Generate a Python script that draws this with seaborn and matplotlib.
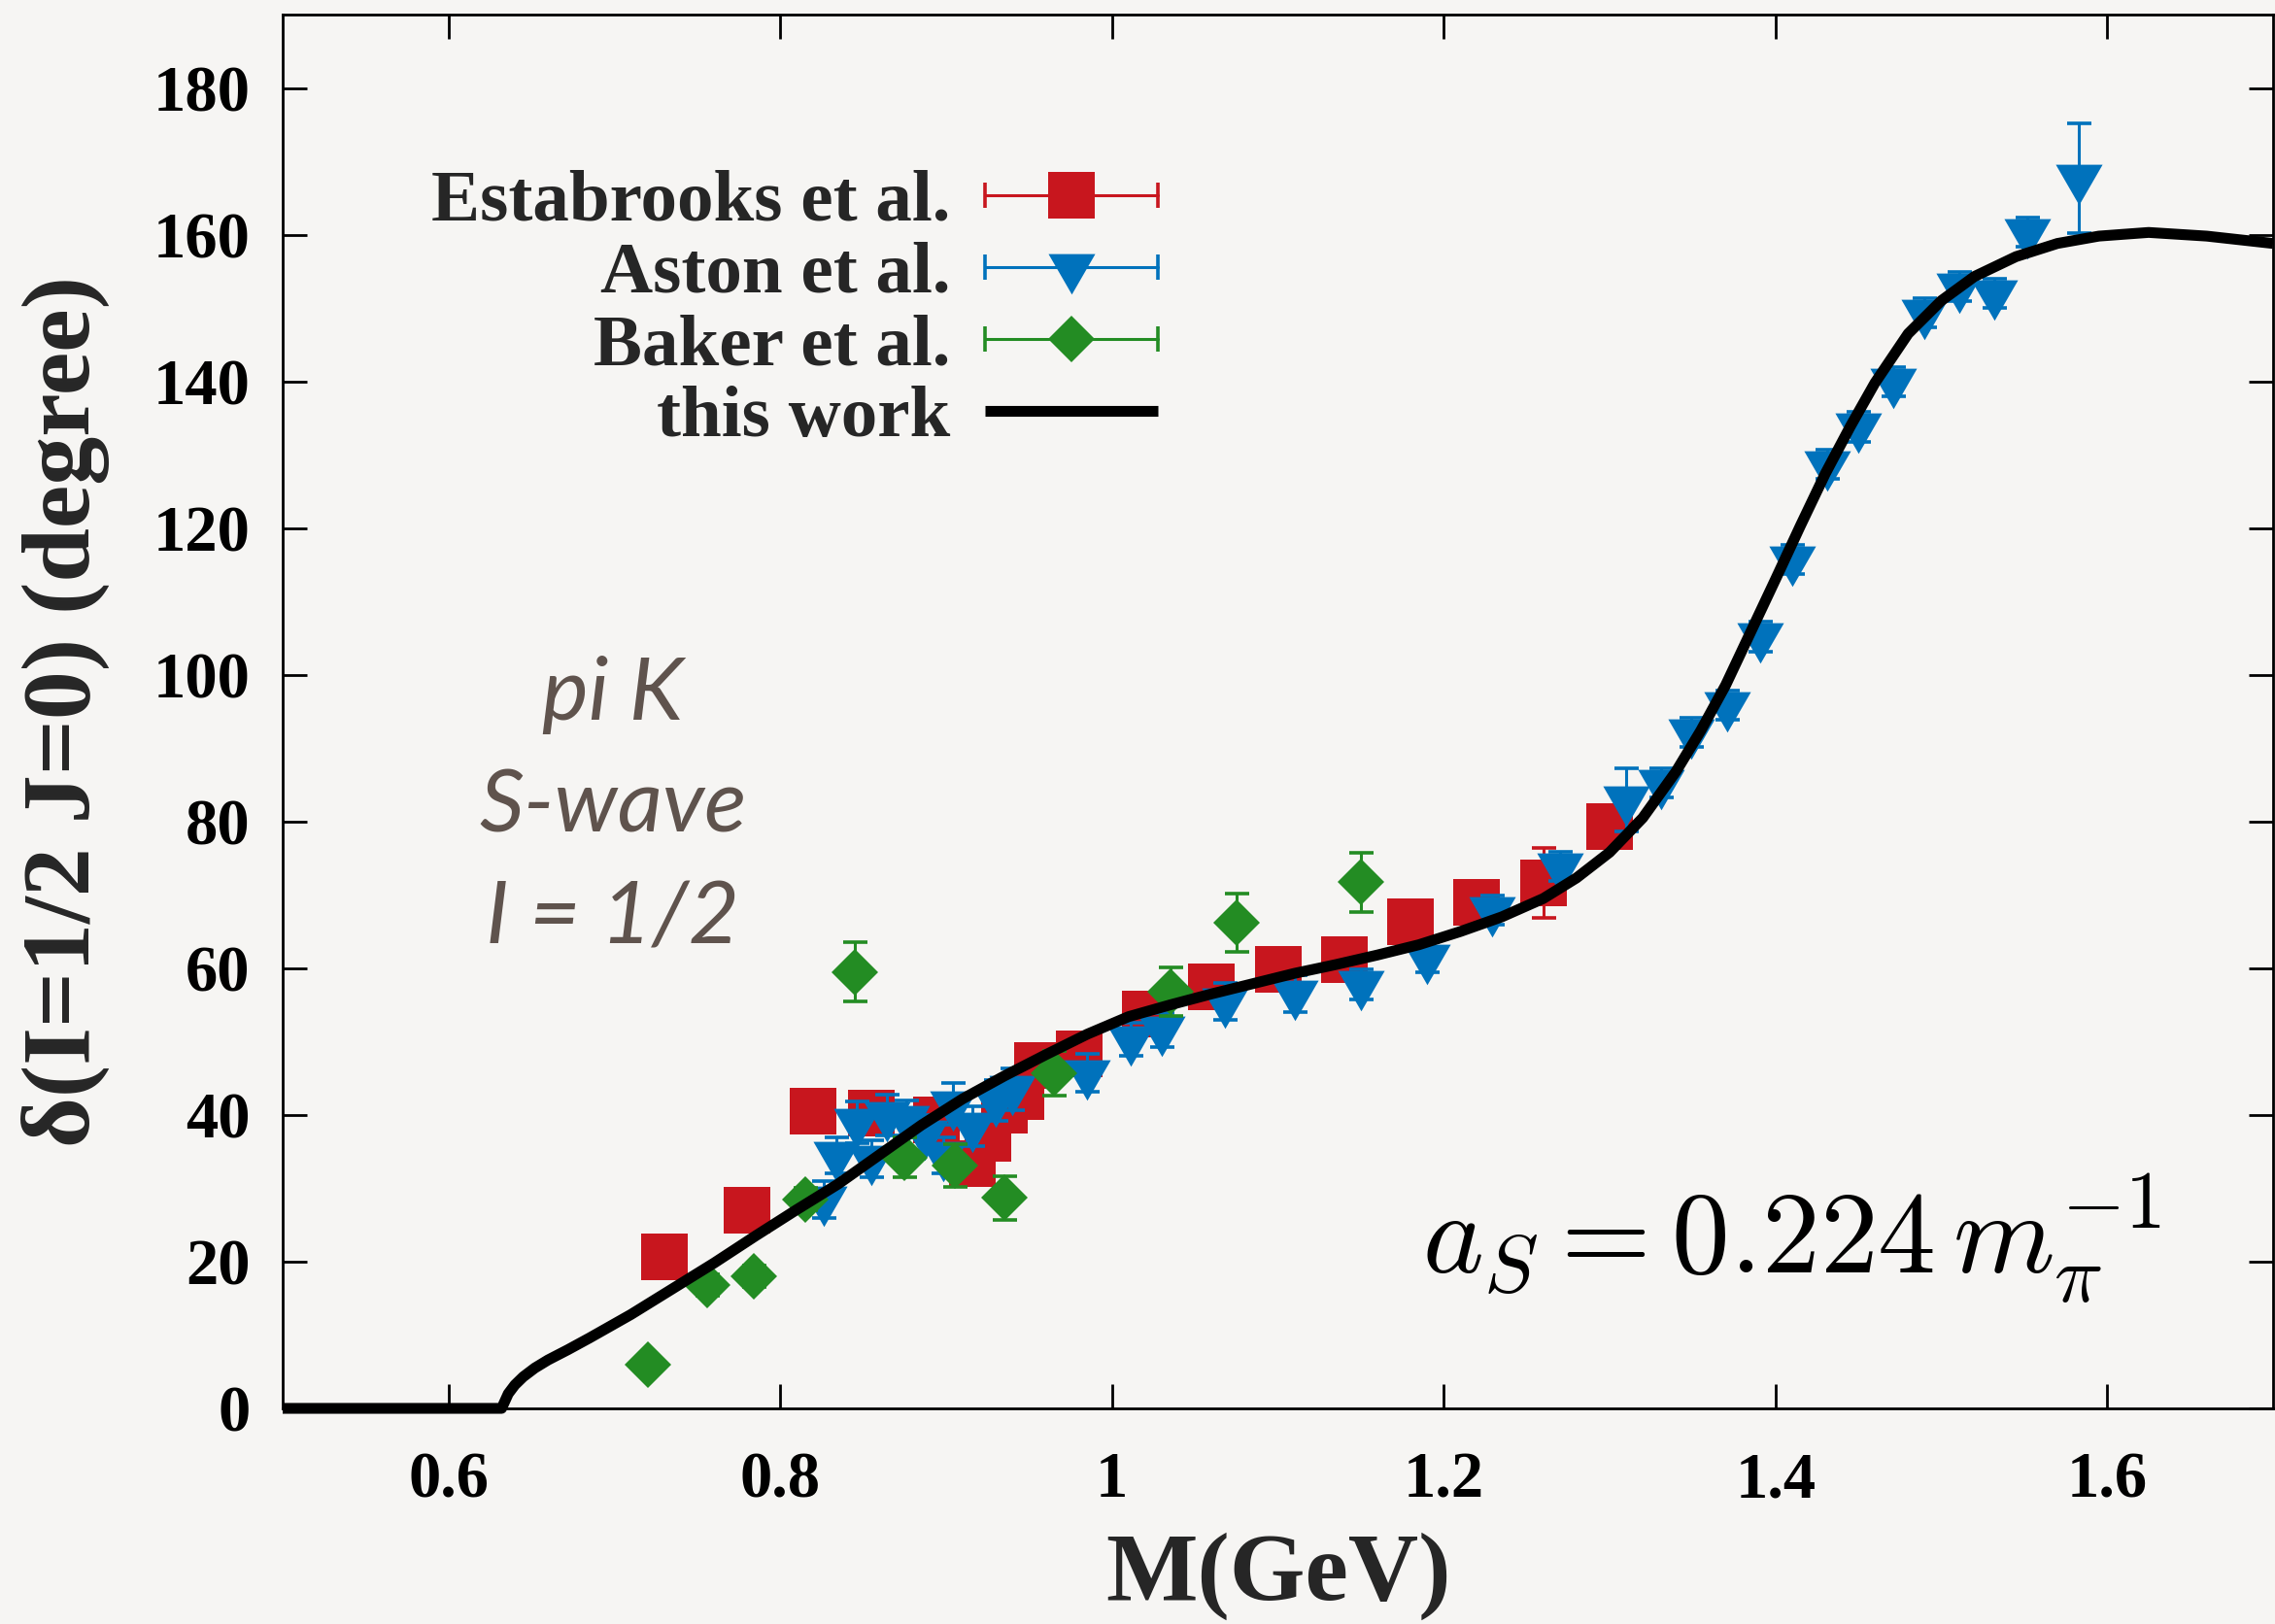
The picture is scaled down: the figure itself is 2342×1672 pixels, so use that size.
import matplotlib
matplotlib.use("Agg")
import matplotlib.pyplot as plt
import pandas as pd
import seaborn as sns
from matplotlib.lines import Line2D
from matplotlib.legend_handler import HandlerLine2D

# Estabrooks et al. (red squares)
estabrooks_m = [0.730, 0.780, 0.820, 0.855, 0.894, 0.916, 0.925, 0.935, 0.945, 0.955,
                0.980, 1.020, 1.060, 1.100, 1.140, 1.180, 1.220, 1.260, 1.300]
estabrooks_delta = [20.7, 27.0, 40.5, 40.3, 39.3, 33.3, 36.8, 40.6, 42.5, 46.7,
                    48.3, 53.8, 57.4, 59.9, 61.2, 66.3, 69.0, 71.6, 79.3]
estabrooks_err = [2.0, 2.0, 2.0, 2.0, 2.0, 2.0, 2.0, 2.0, 2.0, 2.0,
                  2.0, 2.0, 2.0, 2.0, 2.0, 2.0, 2.0, 4.8, 2.0]

# Aston et al. (blue down triangles)
aston_m = [0.826, 0.834, 0.846, 0.855, 0.864, 0.876, 0.887, 0.898, 0.904, 0.916,
           0.930, 0.940, 0.985, 1.011, 1.030, 1.068, 1.110, 1.150, 1.190, 1.229,
           1.270, 1.310, 1.331, 1.349, 1.371, 1.391, 1.410, 1.431, 1.450, 1.471,
           1.490, 1.511, 1.532, 1.552, 1.583]
aston_delta = [28.5, 34.5, 39.0, 34.0, 40.0, 39.5, 37.5, 34.5, 41.5, 38.5,
               42.0, 43.5, 45.7, 50.3, 51.6, 55.5, 56.5, 57.8, 61.5, 67.9,
               73.9, 83.0, 85.3, 92.2, 95.9, 105.2, 115.7, 128.7, 133.8, 140.0,
               149.3, 152.9, 152.0, 160.3, 167.7]
aston_err = [2.5, 2.5, 2.8, 2.5, 2.8, 2.5, 2.5, 2.5, 2.9, 2.7,
             2.8, 2.8, 2.6, 2.3, 2.3, 2.5, 2.5, 2.0, 2.0, 2.0,
             2.0, 4.3, 2.0, 2.0, 2.0, 2.0, 2.0, 2.0, 2.0, 2.0,
             2.0, 2.0, 2.0, 2.0, 7.5]

# Baker et al. (green diamonds)
baker_m = [0.720, 0.756, 0.784, 0.815, 0.845, 0.875, 0.905, 0.935, 0.965, 1.035, 1.075, 1.150]
baker_delta = [6.0, 16.8, 18.0, 28.5, 59.5, 34.2, 33.1, 28.7, 45.7, 56.8, 66.2, 71.7]
baker_err = [1.2, 1.5, 1.5, 1.5, 4.0, 2.7, 2.9, 3.0, 3.0, 3.3, 4.0, 4.0]

# this work (fit curve)
curve_m = [0.500, 0.632, 0.636, 0.640, 0.645, 0.652, 0.660, 0.672, 0.685, 0.710,
           0.735, 0.760, 0.785, 0.810, 0.835, 0.860, 0.885, 0.910, 0.935, 0.960,
           0.985, 1.010, 1.035, 1.060, 1.085, 1.110, 1.135, 1.160, 1.185, 1.210,
           1.235, 1.260, 1.280, 1.300, 1.320, 1.340, 1.355, 1.370, 1.385, 1.400,
           1.415, 1.430, 1.445, 1.460, 1.480, 1.500, 1.520, 1.545, 1.570, 1.595,
           1.625, 1.660, 1.700]
curve_delta = [0.0, 0.0, 2.0, 3.2, 4.3, 5.5, 6.6, 8.0, 9.6, 12.8,
               16.3, 19.8, 23.5, 27.1, 30.6, 34.6, 38.6, 42.2, 45.3, 48.2,
               51.0, 53.4, 55.0, 56.5, 57.9, 59.3, 60.5, 61.8, 63.2, 65.0,
               67.0, 69.5, 72.3, 75.8, 80.5, 86.8, 92.4, 98.6, 105.8, 113.0,
               120.3, 127.4, 133.8, 139.8, 146.5, 151.0, 154.3, 157.0, 158.8, 159.8,
               160.3, 159.8, 158.8]

x_ticks = [0.6, 0.8, 1.0, 1.2, 1.4, 1.6]
x_tick_labels = ["0.6", "0.8", "1", "1.2", "1.4", "1.6"]
y_ticks = [0, 20, 40, 60, 80, 100, 120, 140, 160, 180]

BG = "#f6f5f3"
RED = "#c8161e"
BLUE = "#0072bc"
GREEN = "#238c23"

sns.set_theme(style="ticks")
plt.rcParams["font.family"] = ["Liberation Serif", "DejaVu Serif"]
plt.rcParams["font.weight"] = "bold"
plt.rcParams["mathtext.fontset"] = "cm"
plt.rcParams["axes.linewidth"] = 1.0

fig = plt.figure(figsize=(2342 / 200, 1672 / 200), dpi=200, facecolor=BG)
ax = fig.add_axes([291 / 2342, 222 / 1672, 2049 / 2342, 1435 / 1672])
ax.set_facecolor(BG)

series = [
    ("Estabrooks et al.", estabrooks_m, estabrooks_delta, estabrooks_err, RED, "s", 17),
    ("Aston et al.", aston_m, aston_delta, aston_err, BLUE, (3, 0, 180), 20),
    ("Baker et al.", baker_m, baker_delta, baker_err, GREEN, "D", 12.2),
]

handles = []
labels = []
hmap = {}
for i, (label, m, d, e, color, marker, ms) in enumerate(series):
    ax.errorbar(m, d, yerr=e, fmt="none", ecolor=color, elinewidth=1.1,
                capsize=4.5, capthick=1.3, zorder=2 + 2 * i)
    ax.plot(m, d, ls="none", marker=marker, color=color, ms=ms, mew=0, zorder=3 + 2 * i)

    # legend handle: horizontal bar with end caps plus the marker
    bar = Line2D([], [], color=color, lw=1.1, marker="|", ms=9.5, mew=1.3)
    mark = Line2D([], [], ls="none", marker=marker, color=color, ms=ms, mew=0)
    hmap[bar] = HandlerLine2D(numpoints=2, marker_pad=0)
    hmap[mark] = HandlerLine2D(numpoints=1)
    handles.append((bar, mark))
    labels.append(label)

curve_df = pd.DataFrame({"M": curve_m, "delta": curve_delta})
sns.lineplot(data=curve_df, x="M", y="delta", color="black", lw=4, sort=False,
             estimator=None, ax=ax, zorder=10, clip_on=False, solid_capstyle="butt",
             solid_joinstyle="round")
handles.append(Line2D([], [], color="black", lw=4, solid_capstyle="butt"))
labels.append("this work")

ax.set_xlim(0.5, 1.7)
ax.set_ylim(0, 190)
ax.set_xticks(x_ticks)
ax.set_xticklabels(x_tick_labels)
ax.set_yticks(y_ticks)
ax.tick_params(direction="in", length=9, width=1.0, labelsize=24,
               top=True, right=True, colors="black")
ax.tick_params(axis="x", pad=16)
ax.tick_params(axis="y", pad=12)
for s in ax.spines.values():
    s.set_color("black")
    s.set_linewidth(1.0)

ax.set_xlabel("M(GeV)", fontsize=36, fontweight="bold", labelpad=8)
ax.set_ylabel("δ(I=1/2 J=0) (degree)", fontsize=36, fontweight="bold", labelpad=16)

ax.legend(handles, labels, handler_map=hmap, loc="upper right",
          bbox_to_anchor=(0.4397, 0.889), frameon=False, markerfirst=False,
          prop={"family": ["Liberation Serif"], "weight": "bold", "size": 27},
          handlelength=2.37, handletextpad=0.48, labelspacing=0.075,
          borderpad=0, borderaxespad=0)

ax.text(0.699, 82, "pi K\nS-wave\nI = 1/2", ha="center", va="center",
        fontsize=32.5, fontstyle="italic", fontweight="normal", family=["Lato", "DejaVu Sans"],
        color="#5f534d", linespacing=1.52)
ax.text(1.187, 18.5, r"$a_S = 0.224\,m_\pi^{-1}$", ha="left", va="baseline",
        fontsize=43, color="black")

fig.savefig("out.png", dpi=200, facecolor=BG)
